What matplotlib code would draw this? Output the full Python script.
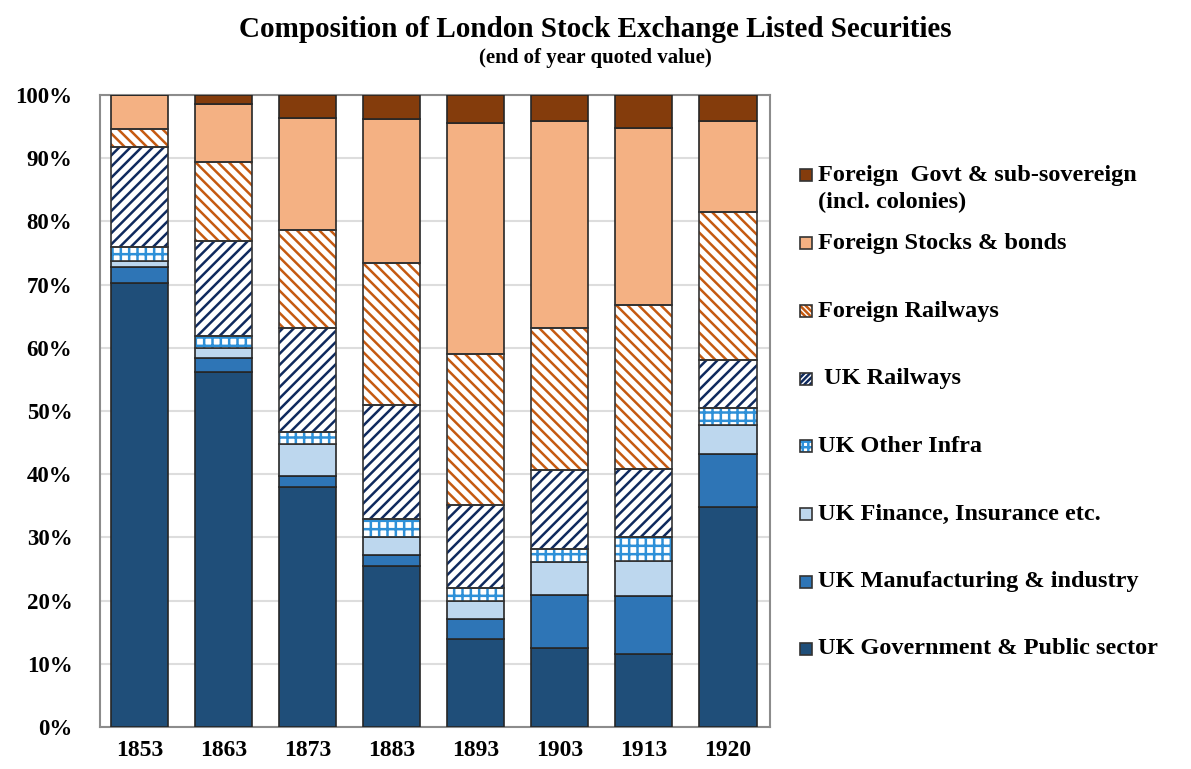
import numpy as np
import matplotlib
matplotlib.use('Agg')
import matplotlib.pyplot as plt
from matplotlib.patches import Rectangle

plt.rcParams['font.family'] = ['Liberation Serif', 'DejaVu Serif']
plt.rcParams['hatch.linewidth'] = 1.8

years = ['1853', '1863', '1873', '1883', '1893', '1903', '1913', '1920']

# shares in % of total quoted value, bottom to top
uk_govt = [70.3, 56.2, 37.9, 25.5, 13.9, 12.5, 11.6, 34.8]
uk_manuf = [2.5, 2.2, 1.8, 1.7, 3.2, 8.4, 9.2, 8.4]
uk_finance = [1.0, 1.5, 5.1, 2.9, 2.9, 5.2, 5.4, 4.5]
uk_other_infra = [2.2, 1.9, 1.8, 2.8, 2.0, 2.0, 3.8, 2.7]
uk_rail = [15.8, 15.1, 16.5, 18.0, 13.2, 12.6, 10.8, 7.6]
for_rail = [2.8, 12.5, 15.5, 22.5, 23.8, 22.4, 26.0, 23.4]
for_stocks = [5.4, 9.2, 17.8, 22.8, 36.6, 32.8, 28.0, 14.5]
for_govt = [0.0, 1.4, 3.6, 3.8, 4.4, 4.1, 5.2, 4.1]

series = [
    ('UK Government & Public sector', uk_govt, '#1F4E79', None, None),
    ('UK Manufacturing & industry', uk_manuf, '#2E75B6', None, None),
    ('UK Finance, Insurance etc.', uk_finance, '#BDD7EE', None, None),
    ('UK Other Infra', uk_other_infra, 'white', '++', '#2E90D8'),
    (' UK Railways', uk_rail, 'white', '///', '#0F2A5E'),
    ('Foreign Railways', for_rail, 'white', '\\\\\\', '#C55A11'),
    ('Foreign Stocks & bonds', for_stocks, '#F4B183', None, None),
    ('Foreign  Govt & sub-sovereign\n(incl. colonies)', for_govt, '#843C0C', None, None),
]
legend_hatch = {'++': '+++', '///': '//////', '\\\\\\': '\\\\\\\\\\\\'}

fig = plt.figure(figsize=(11.91, 7.69), dpi=100)
ax = fig.add_axes([0.084, 0.0546, 0.5625, 0.822])

x = np.arange(len(years))
w = 0.68
bottom = np.zeros(len(years))
for name, vals, fc, hatch, hc in series:
    vals = np.array(vals)
    if hatch:
        ax.bar(x, vals, w, bottom=bottom, color=fc, edgecolor=hc, hatch=hatch,
               linewidth=0, zorder=3)
        ax.bar(x, vals, w, bottom=bottom, color='none', edgecolor='#333333',
               linewidth=1.2, zorder=4)
    else:
        ax.bar(x, vals, w, bottom=bottom, color=fc, edgecolor='#262626',
               linewidth=1.2, zorder=3)
    bottom += vals

ax.set_xlim(-0.47, 7.5)
ax.set_ylim(0, 100)
ax.set_yticks(np.arange(0, 101, 10))
ax.set_yticklabels(['%d%%' % v for v in range(0, 101, 10)])
ax.set_xticks(x)
ax.set_xticklabels(years)
ax.tick_params(axis='x', length=0, labelsize=17, pad=9)
ax.tick_params(axis='y', length=0, labelsize=16.5, pad=20)
for lab in ax.get_xticklabels() + ax.get_yticklabels():
    lab.set_fontweight('bold')
ax.yaxis.grid(True, color='#DDDDDD', linewidth=1.5, zorder=0)
for s in ax.spines.values():
    s.set_color('#8C8C8C')
    s.set_linewidth(1.5)

fig.text(0.5, 0.962, 'Composition of London Stock Exchange Listed Securities',
         ha='center', va='center', fontsize=21, fontweight='bold')
fig.text(0.5, 0.924, '(end of year quoted value)', ha='center', va='center',
         fontsize=15, fontweight='bold')

# legend, drawn by hand to keep Excel-like spacing
leg_y = [649, 582, 514, 446, 379, 311, 243, 175]
W, H = 1191.0, 769.0
for (name, vals, fc, hatch, hc), yy in zip(series, leg_y):
    fy = 1 - yy / H
    if hatch:
        r = Rectangle((800 / W, fy - 6 / H), 12 / W, 12 / H, transform=fig.transFigure,
                      facecolor=fc, edgecolor=hc, hatch=legend_hatch[hatch], linewidth=0)
        fig.patches.append(r)
    r = Rectangle((800 / W, fy - 6 / H), 12 / W, 12 / H, transform=fig.transFigure,
                  facecolor=fc if not hatch else 'none', edgecolor='#333333', linewidth=1.2)
    fig.patches.append(r)
    if '\n' in name:
        fig.text(818 / W, fy + 10 / H, name, ha='left', va='top', fontsize=17.5,
                 fontweight='bold', linespacing=1.35)
    else:
        fig.text(818 / W, fy, name, ha='left', va='center', fontsize=17.5,
                 fontweight='bold')

fig.savefig('out.png', dpi=100)
